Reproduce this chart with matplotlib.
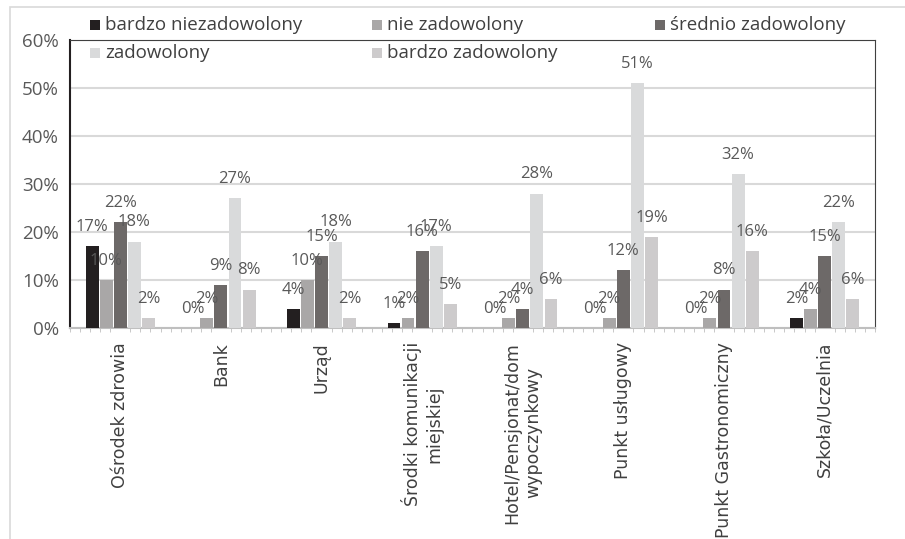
import matplotlib.pyplot as plt
import numpy as np
from matplotlib.patches import Rectangle
from matplotlib.ticker import MultipleLocator, PercentFormatter

plt.rcParams['font.family'] = ['Open Sans', 'DejaVu Sans']

categories = ['Ośrodek zdrowia', 'Bank', 'Urząd', 'Środki komunikacji\nmiejskiej',
              'Hotel/Pensjonat/dom\nwypoczynkowy', 'Punkt usługowy',
              'Punkt Gastronomiczny', 'Szkoła/Uczelnia']
series_names = ['bardzo niezadowolony', 'nie zadowolony', 'średnio zadowolony',
                'zadowolony', 'bardzo zadowolony']
bardzo_niezadowolony = [17, 0, 4, 1, 0, 0, 0, 2]
nie_zadowolony = [10, 2, 10, 2, 2, 2, 2, 4]
srednio_zadowolony = [22, 9, 15, 16, 4, 12, 8, 15]
zadowolony = [18, 27, 18, 17, 28, 51, 32, 22]
bardzo_zadowolony = [2, 8, 2, 5, 6, 19, 16, 6]

values = [bardzo_niezadowolony, nie_zadowolony, srednio_zadowolony,
          zadowolony, bardzo_zadowolony]
colors = ['#231f20', '#a9a7a7', '#6d6968', '#d9dadb', '#cdcbcc']

fig = plt.figure(figsize=(9.05, 5.39), dpi=100)
ax = fig.add_axes([0.0773, 0.3915, 0.8895, 0.5343])

x = np.arange(len(categories))
w = 0.128
step = 0.14
for i, (vals, c) in enumerate(zip(values, colors)):
    pos = x + (i - 2) * step
    ax.bar(pos, vals, width=w, color=c, label=series_names[i], zorder=3)
    for p, v in zip(pos, vals):
        ax.annotate(f'{v}%', (p, v), xytext=(0, 8), textcoords='offset points',
                    ha='center', va='bottom', fontsize=12, color='#595959',
                    zorder=4)

ax.set_ylim(0, 60)
ax.set_xlim(-0.5, len(categories) - 0.5)
ax.yaxis.set_major_locator(MultipleLocator(10))
ax.yaxis.set_major_formatter(PercentFormatter(decimals=0))
ax.grid(axis='y', color='#d9d9d9', linewidth=1.5, zorder=0)
ax.set_xticks(x)
ax.set_xticklabels(categories, rotation=90, fontsize=12.5, color='#404040',
                   ha='center', va='top', multialignment='center',
                   family=['DejaVu Sans'])
ax.tick_params(axis='y', length=0, labelsize=13.5, labelcolor='#595959', pad=8)
ax.tick_params(axis='x', length=0, pad=10)
ax.xaxis.set_minor_locator(MultipleLocator(0.1))
ax.tick_params(axis='x', which='minor', length=3, color='#bfbfbf')

ax.spines['left'].set_color('#231f20')
ax.spines['left'].set_linewidth(1.5)
ax.spines['top'].set_color('#404040')
ax.spines['top'].set_linestyle((0, (2, 1)))
ax.spines['right'].set_color('#404040')
ax.spines['bottom'].set_color('#bfbfbf')
ax.spines['bottom'].set_linewidth(1.5)

# legend laid out like the original: three columns, two rows
leg_x = [90, 372, 655, 90, 372]
leg_y = [25, 25, 25, 53, 53]
for k in range(len(series_names)):
    fx = leg_x[k] / 905
    fy = 1 - leg_y[k] / 539
    fig.patches.append(Rectangle((fx, fy - 5 / 539), 10 / 905, 10 / 539,
                                 transform=fig.transFigure,
                                 facecolor=colors[k], edgecolor='none'))
    fig.text(fx + 15 / 905, fy, series_names[k], ha='left', va='center',
             fontsize=13.5, color='#404040')

fig.patches.append(Rectangle((10 / 905, -0.01), 1.0, 1 - 7 / 539 + 0.01,
                             transform=fig.transFigure, fill=False,
                             edgecolor='#d9d9d9', linewidth=1.2))

fig.savefig('out.png', dpi=100)
